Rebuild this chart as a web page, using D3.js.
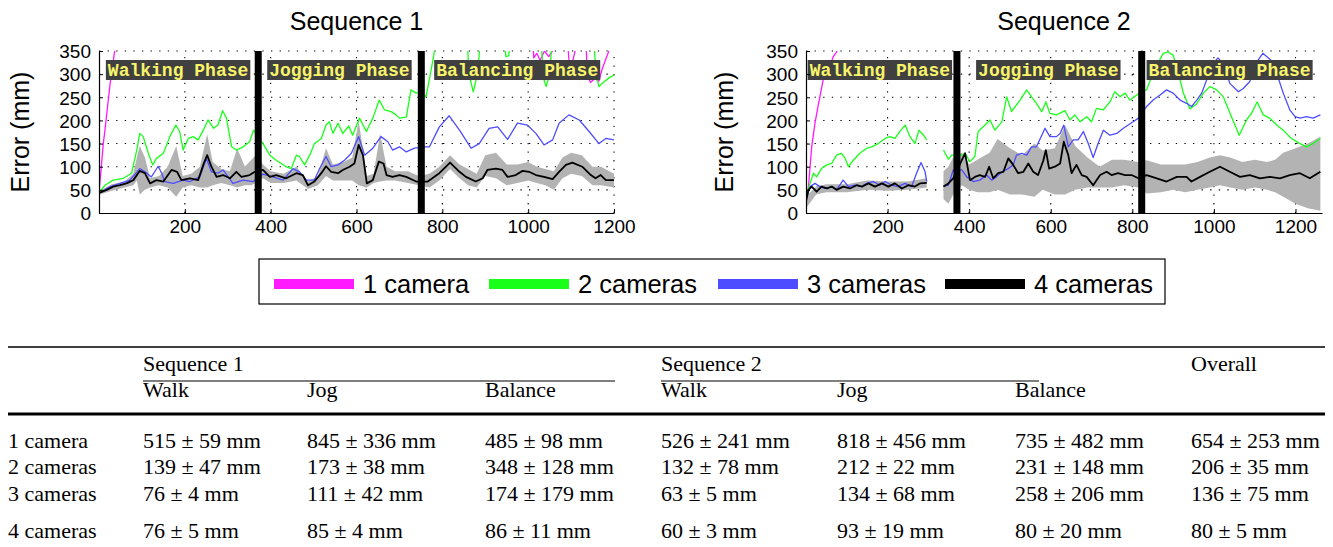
<!DOCTYPE html>
<html><head><meta charset="utf-8">
<script src="https://cdn.jsdelivr.net/npm/d3@7"></script>
<style>
body{margin:0;background:#fff;}
svg{display:block;}
</style>
</head><body>
<svg id="c" width="1333" height="547"></svg>
<script>
// ---------------- DATA ----------------
const seqTitles = ["Sequence 1", "Sequence 2"];
const seriesNames = ["1 camera", "2 cameras", "3 cameras", "4 cameras"];
const yTicks = [0, 50, 100, 150, 200, 250, 300, 350];
const xTicks = [200, 400, 600, 800, 1000, 1200];
const phaseNames = ["Walking Phase", "Jogging Phase", "Balancing Phase"];
const s1PhaseBounds = [371, 751];
const s2PhaseBounds = [370, 823];
const s1LabelStart = [16, 392, 781];
const s2LabelStart = [4, 417, 835];

// Sequence 1 — [frame, error mm]
const s1_cam1 = [[0,45],[5,95],[10,150],[14,180],[20,230],[26,280],[32,320],[38,360],[50,480],[200,520],[371,560],[500,820],[750,900],[1000,500],[1008,420],[1013,335],[1020,345],[1028,330],[1038,350],[1048,338],[1058,352],[1066,420],[1088,420],[1095,330],[1102,322],[1110,352],[1118,420],[1132,420],[1138,300],[1145,282],[1155,290],[1165,285],[1172,310],[1180,330],[1192,360],[1200,420]];
const s1_cam2 = [[2,46],[14,60],[33,71],[57,75],[76,86],[88,136],[95,172],[103,165],[115,129],[125,104],[134,118],[150,129],[165,165],[179,190],[188,176],[196,136],[208,161],[219,165],[231,158],[243,179],[254,201],[267,183],[277,190],[288,221],[297,205],[309,143],[320,136],[336,143],[351,154],[360,179],[371,165],[382,150],[398,125],[413,114],[436,100],[448,96],[460,125],[467,122],[479,104],[491,125],[502,150],[518,161],[529,190],[537,197],[545,172],[557,194],[568,172],[582,188],[591,168],[607,205],[623,176],[638,205],[653,244],[665,223],[681,219],[692,212],[700,205],[716,207],[727,266],[739,259],[751,262],[762,251],[772,300],[780,340],[790,420],[855,430],[862,300],[872,262],[882,300],[893,420],[940,420],[948,338],[955,340],[962,420],[1028,400],[1036,290],[1042,273],[1050,300],[1058,400],[1150,420],[1158,300],[1165,273],[1175,282],[1190,293],[1200,298]];
const s1_cam3 = [[2,44],[26,57],[49,64],[72,71],[95,96],[107,89],[122,78],[138,101],[146,86],[153,68],[173,64],[196,71],[212,68],[235,78],[250,118],[262,89],[277,86],[289,93],[301,78],[312,64],[336,71],[359,68],[382,84],[405,78],[429,71],[452,96],[467,89],[483,71],[502,71],[514,96],[529,122],[541,100],[557,104],[572,114],[588,129],[605,165],[619,125],[638,140],[657,165],[673,154],[684,136],[700,143],[716,132],[735,140],[762,143],[770,143],[793,186],[816,210],[840,179],[867,140],[886,150],[909,183],[929,186],[952,159],[975,194],[998,190],[1018,172],[1037,147],[1057,158],[1072,194],[1095,212],[1119,201],[1142,176],[1165,150],[1181,161],[1200,158]];
const s1_cam4 = [[2,44],[18,50],[33,57],[49,60],[64,64],[80,71],[95,91],[107,86],[119,64],[134,71],[150,68],[169,93],[182,89],[192,71],[212,75],[231,71],[243,104],[252,125],[262,100],[274,78],[289,82],[305,75],[320,89],[332,78],[351,82],[363,89],[382,93],[398,78],[413,82],[436,75],[460,86],[475,82],[487,60],[502,68],[518,86],[529,101],[541,89],[557,86],[568,93],[584,100],[595,107],[605,147],[615,125],[624,64],[638,71],[652,111],[663,107],[670,82],[684,78],[700,82],[716,78],[739,68],[766,68],[793,86],[818,109],[840,89],[855,78],[878,68],[894,75],[905,93],[925,96],[940,93],[952,78],[971,82],[987,91],[1002,89],[1018,82],[1037,78],[1057,73],[1072,89],[1088,104],[1103,109],[1126,100],[1146,82],[1157,75],[1169,82],[1181,71],[1200,71]];
// 4-camera spread band — [frame, low, high]
const s1_band4 = [[2,40,48],[30,48,62],[60,55,68],[80,60,85],[88,70,120],[95,40,145],[107,50,120],[119,55,75],[140,60,80],[160,55,100],[180,35,145],[195,55,80],[215,60,85],[235,55,100],[252,55,170],[265,60,110],[285,65,95],[305,60,90],[322,55,140],[340,60,100],[355,60,115],[365,65,125],[382,75,105],[400,65,90],[430,65,85],[460,70,100],[487,52,68],[510,60,80],[529,80,140],[545,70,105],[570,70,110],[590,70,120],[605,60,200],[624,55,80],[640,65,85],[655,68,172],[670,70,100],[690,70,90],[720,65,90],[745,60,80],[770,55,85],[793,70,100],[818,95,125],[840,75,105],[860,60,95],[880,55,85],[900,80,125],[925,75,130],[950,60,105],[975,65,105],[1000,70,110],[1020,65,100],[1040,60,95],[1060,50,90],[1080,75,120],[1100,85,130],[1125,80,125],[1150,60,100],[1170,60,100],[1200,55,85]];

// Sequence 2 — null marks the gap in the recording
const s2_cam1 = [[0,21],[6,57],[14,143],[22,194],[30,233],[42,287],[55,309],[67,338],[75,348],[90,420],[150,500],[296,540]];
const s2_cam2 = [[0,39],[10,64],[18,86],[26,78],[38,96],[51,104],[63,107],[75,125],[87,129],[96,118],[104,100],[116,114],[132,129],[149,140],[161,143],[177,150],[194,161],[206,165],[218,161],[230,176],[243,190],[255,165],[267,150],[277,179],[288,168],[296,158],null,[337,136],[349,116],[357,125],[382,125],[390,129],[402,111],[414,122],[422,176],[439,190],[451,201],[463,179],[480,197],[492,251],[504,219],[525,244],[541,266],[553,251],[565,237],[578,219],[588,240],[598,215],[614,212],[635,221],[647,201],[659,212],[672,197],[688,208],[700,197],[712,226],[729,223],[745,240],[757,262],[770,251],[782,259],[794,244],[811,255],[823,262],[835,266],[847,294],[860,320],[876,345],[888,348],[900,341],[913,302],[925,259],[941,225],[958,236],[974,259],[990,273],[1007,266],[1023,251],[1043,208],[1062,168],[1080,201],[1092,215],[1106,240],[1121,212],[1137,205],[1154,190],[1170,179],[1190,161],[1211,150],[1227,143],[1243,150],[1261,161]];
const s2_cam3 = [[0,28],[10,57],[22,64],[34,57],[47,53],[63,57],[75,50],[91,71],[104,57],[120,60],[137,57],[149,64],[165,68],[181,60],[194,68],[210,60],[226,57],[243,64],[259,57],[271,86],[282,109],[292,89],[296,68],null,[337,57],[349,60],[361,93],[382,93],[394,78],[410,68],[426,71],[443,82],[455,71],[467,78],[480,89],[496,96],[508,104],[516,125],[529,129],[541,125],[553,143],[565,143],[578,168],[586,183],[598,165],[614,165],[623,172],[632,190],[643,143],[655,158],[667,158],[680,176],[692,150],[704,120],[716,150],[729,179],[745,168],[762,172],[778,183],[790,190],[802,197],[815,205],[835,230],[851,244],[868,255],[884,266],[900,259],[917,244],[933,237],[945,230],[958,244],[970,259],[982,287],[995,320],[1010,335],[1025,320],[1039,280],[1060,262],[1072,269],[1088,284],[1100,320],[1120,345],[1140,330],[1154,302],[1170,259],[1186,223],[1199,208],[1211,205],[1227,208],[1243,205],[1261,212]];
const s2_cam4 = [[0,25],[6,50],[14,57],[26,46],[38,57],[51,53],[63,57],[75,50],[91,57],[108,53],[124,60],[137,57],[153,64],[169,57],[186,64],[202,57],[218,64],[235,53],[251,60],[267,57],[279,64],[296,65],null,[337,57],[349,64],[361,75],[382,114],[390,129],[402,71],[414,78],[426,82],[439,78],[449,100],[459,75],[471,86],[484,89],[496,118],[508,104],[520,86],[533,89],[545,107],[557,89],[569,82],[582,114],[588,136],[596,96],[610,100],[623,107],[632,154],[643,125],[651,86],[663,104],[676,82],[688,78],[704,60],[721,82],[737,89],[749,82],[765,86],[782,82],[798,82],[815,75],[835,82],[860,75],[884,68],[909,78],[933,78],[945,68],[966,78],[990,89],[1015,100],[1039,89],[1064,78],[1088,82],[1113,75],[1137,78],[1162,75],[1186,82],[1211,86],[1235,75],[1261,89]];
const s2_band4 = [[0,10,35],[25,40,58],[50,45,62],[100,45,62],[150,50,70],[200,48,68],[250,50,68],[296,55,75],null,[337,30,90],[349,20,100],[361,40,120],[382,60,130],[400,50,105],[420,45,115],[450,45,130],[470,50,160],[500,40,140],[530,40,125],[560,35,150],[580,50,135],[610,40,140],[635,40,190],[660,50,145],[690,55,120],[720,55,100],[750,55,115],[780,60,115],[815,55,110],[835,42,114],[870,45,105],[900,50,105],[930,45,105],[960,50,110],[990,55,120],[1015,60,125],[1040,55,120],[1070,50,110],[1100,55,115],[1130,50,110],[1150,45,115],[1170,35,130],[1200,20,140],[1230,10,150],[1261,5,165]];

// Table
const tableGroups = ["Sequence 1", "Sequence 2", "Overall"];
const tableCols = ["Walk", "Jog", "Balance", "Walk", "Jog", "Balance"];
const tableRows = ["1 camera", "2 cameras", "3 cameras", "4 cameras"];
const tableMean = [
  [515, 845, 485, 526, 818, 735, 654],
  [139, 173, 348, 132, 212, 231, 206],
  [76, 111, 174, 63, 134, 258, 136],
  [76, 85, 86, 60, 93, 80, 80]
];
const tableStd = [
  [59, 336, 98, 241, 456, 482, 253],
  [47, 38, 128, 78, 22, 148, 35],
  [4, 42, 179, 5, 68, 206, 75],
  [5, 4, 11, 3, 19, 20, 5]
];

// ---------------- STYLE ----------------
const colors = ["#ff1aff", "#1aff1a", "#4d4dff", "#000000"];
const widths = [1.3, 1.3, 1.3, 1.8];
const SANS = "'Liberation Sans', Arial, Helvetica, sans-serif";
const SERIF = "'Liberation Serif', 'Times New Roman', serif";
const MONO = "'Liberation Mono', 'Courier New', monospace";

const svg = d3.select("#c");

const charts = [
  {title: seqTitles[0], xDomain: [0, 1200], xRange: [99, 614], series: [s1_cam1, s1_cam2, s1_cam3, s1_cam4], band: s1_band4, bounds: s1PhaseBounds, labels: s1LabelStart, ylabX: 29, id: "a"},
  {title: seqTitles[1], xDomain: [0, 1265], xRange: [806, 1322], series: [s2_cam1, s2_cam2, s2_cam3, s2_cam4], band: s2_band4, bounds: s2PhaseBounds, labels: s2LabelStart, ylabX: 733, id: "b"}
];

const yRange = [213, 51];

charts.forEach(cfg => {
  const x = d3.scaleLinear().domain(cfg.xDomain).range(cfg.xRange);
  const y = d3.scaleLinear().domain([0, 350]).range(yRange);
  const g = svg.append("g");

  svg.append("defs").append("clipPath").attr("id", "clip" + cfg.id)
    .append("rect").attr("x", cfg.xRange[0]).attr("y", yRange[1])
    .attr("width", cfg.xRange[1] - cfg.xRange[0] + 1).attr("height", yRange[0] - yRange[1]);

  // grid
  const grid = g.append("g").attr("stroke", "#000").attr("stroke-width", 1.1).attr("stroke-dasharray", "1.3,7.3");
  yTicks.filter(t => t > 0).forEach(t => {
    grid.append("line").attr("x1", cfg.xRange[0]).attr("x2", cfg.xRange[1])
      .attr("y1", y(t)).attr("y2", y(t));
  });
  xTicks.forEach(t => {
    grid.append("line").attr("x1", x(t)).attr("x2", x(t))
      .attr("y1", yRange[0]).attr("y2", yRange[1]);
  });

  const plot = g.append("g").attr("clip-path", `url(#clip${cfg.id})`);

  // band
  const area = d3.area().defined(d => d !== null)
    .x(d => x(d[0])).y0(d => y(d[1])).y1(d => y(d[2]));
  plot.append("path").datum(cfg.band).attr("d", area).attr("fill", "#b3b3b3");

  // lines
  const line = d3.line().defined(d => d !== null)
    .x(d => x(d[0])).y(d => y(d[1]));
  cfg.series.forEach((s, i) => {
    plot.append("path").datum(s).attr("d", line)
      .attr("fill", "none").attr("stroke", colors[i]).attr("stroke-width", widths[i])
      .attr("stroke-linejoin", "round");
  });

  // phase separators
  cfg.bounds.forEach(b => {
    g.append("rect").attr("x", x(b) - 3.5).attr("y", yRange[1])
      .attr("width", 7).attr("height", yRange[0] - yRange[1]).attr("fill", "#000");
  });

  // phase labels
  cfg.labels.forEach((lf, i) => {
    const lg = g.append("g");
    const rect = lg.append("rect");
    const t = lg.append("text").attr("x", x(lf) + 2).attr("y", 75.5)
      .attr("font-family", MONO).attr("font-weight", "bold").attr("font-size", 18)
      .attr("fill", "#f7f36a").text(phaseNames[i]);
    const w = t.node().getComputedTextLength();
    rect.attr("x", x(lf)).attr("y", 60).attr("width", w + 4).attr("height", 20).attr("fill", "#404040");
  });

  // axes
  const yAxis = d3.axisLeft(y).tickValues(yTicks).tickSize(-4).tickSizeOuter(0).tickPadding(8).tickFormat(d3.format("d"));
  const ya = g.append("g").attr("transform", `translate(${cfg.xRange[0]},0)`).call(yAxis);
  const xAxis = d3.axisBottom(x).tickValues(xTicks).tickSize(-4).tickSizeOuter(0).tickPadding(7).tickFormat(d3.format("d"));
  const xa = g.append("g").attr("transform", `translate(0,${yRange[0]})`).call(xAxis);
  [ya, xa].forEach(a => {
    a.select(".domain").attr("stroke", "#000").attr("stroke-width", 1.2);
    a.selectAll(".tick line").attr("stroke", "#000").attr("stroke-width", 1);
    a.selectAll("text").attr("font-family", SANS).attr("font-size", 19).attr("fill", "#000");
  });
  ya.selectAll("text").attr("dy", "0.36em");

  // title
  svg.append("text").attr("x", (cfg.xRange[0] + cfg.xRange[1]) / 2).attr("y", 30)
    .attr("text-anchor", "middle").attr("font-family", SANS).attr("font-size", 25)
    .text(cfg.title);
  // y label
  svg.append("text").attr("transform", `translate(${cfg.ylabX},132) rotate(-90)`)
    .attr("text-anchor", "middle").attr("font-family", SANS).attr("font-size", 25)
    .text("Error (mm)");
});

// ---------------- LEGEND ----------------
const leg = svg.append("g");
leg.append("rect").attr("x", 259).attr("y", 259).attr("width", 906).attr("height", 45)
  .attr("fill", "#fff").attr("stroke", "#000").attr("stroke-width", 1.2);
const legX = [274, 489, 718, 945];
seriesNames.forEach((n, i) => {
  leg.append("rect").attr("x", legX[i]).attr("y", 279).attr("width", 80).attr("height", 10).attr("fill", colors[i]);
  leg.append("text").attr("x", legX[i] + 89).attr("y", 293)
    .attr("font-family", SANS).attr("font-size", 25.5).text(n);
});

// ---------------- TABLE ----------------
const tb = svg.append("g").attr("font-family", SERIF).attr("font-size", 22).attr("fill", "#000");
const colX = [143, 307, 485, 661, 837, 1015, 1191];
tb.append("line").attr("x1", 8).attr("x2", 1325).attr("y1", 347).attr("y2", 347).attr("stroke", "#000").attr("stroke-width", 1.5);
tb.append("text").attr("x", colX[0]).attr("y", 371).text(tableGroups[0]);
tb.append("text").attr("x", colX[3]).attr("y", 371).text(tableGroups[1]);
tb.append("text").attr("x", colX[6]).attr("y", 371).text(tableGroups[2]);
tb.append("line").attr("x1", colX[0]).attr("x2", 615).attr("y1", 381).attr("y2", 381).attr("stroke", "#000").attr("stroke-width", 1.1);
tb.append("line").attr("x1", colX[3]).attr("x2", 1039).attr("y1", 381).attr("y2", 381).attr("stroke", "#000").attr("stroke-width", 1.1);
tableCols.forEach((c, i) => {
  tb.append("text").attr("x", colX[i]).attr("y", 397).text(c);
});
tb.append("line").attr("x1", 8).attr("x2", 1325).attr("y1", 414).attr("y2", 414).attr("stroke", "#000").attr("stroke-width", 3);
const rowY = [448, 474, 501, 538];
tableRows.forEach((r, ri) => {
  tb.append("text").attr("x", 8).attr("y", rowY[ri]).text(r);
  tableMean[ri].forEach((m, ci) => {
    tb.append("text").attr("x", colX[ci]).attr("y", rowY[ri])
      .text(`${m} \u00b1 ${tableStd[ri][ci]} mm`);
  });
});
</script>
</body></html>
